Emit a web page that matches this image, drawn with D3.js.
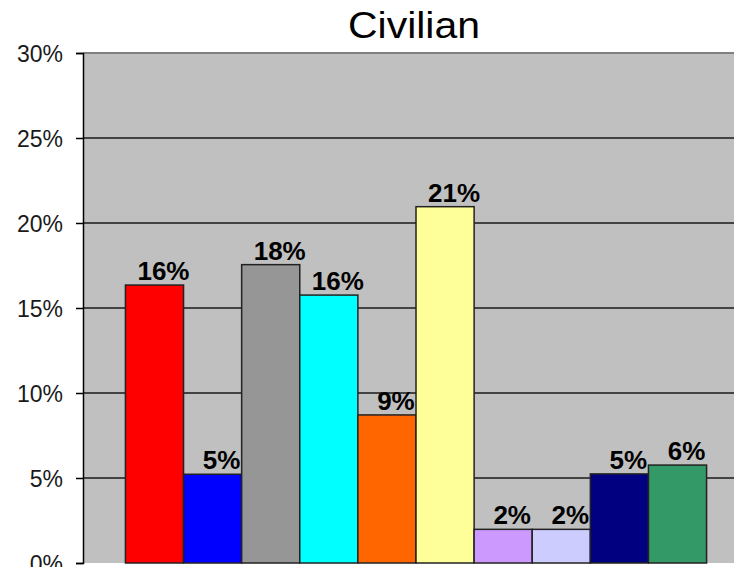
<!DOCTYPE html>
<html>
<head>
<meta charset="utf-8">
<script src="https://cdn.jsdelivr.net/npm/d3@7"></script>
<style>
  html, body { margin: 0; padding: 0; background: #ffffff; }
  svg { display: block; }
</style>
</head>
<body>
<svg id="chart" width="734" height="567"></svg>
<script>
// ---- data ----
const title = "Civilian";
const categories = ["S1", "S2", "S3", "S4", "S5", "S6", "S7", "S8", "S9", "S10"];
const values = [0.1635, 0.0522, 0.1755, 0.1576, 0.0871, 0.2096, 0.0198, 0.0198, 0.0524, 0.0576];
const colors = ["#ff0000", "#0000ff", "#969696", "#00ffff", "#ff6600", "#ffff99", "#cc99ff", "#ccccff", "#000080", "#339966"];
const yTicks = [0, 0.05, 0.10, 0.15, 0.20, 0.25, 0.30];

// ---- layout ----
const svg = d3.select("#chart");
const plot = { left: 83, right: 749, top: 53, bottom: 563 };
const font = "Arial, 'Liberation Sans', sans-serif";

const y = d3.scaleLinear().domain([0, 0.30]).range([plot.bottom, plot.top]);
const x = d3.scaleBand().domain(categories)
  .range([plot.left, plot.right])
  .paddingInner(0).paddingOuter(0.73);

// plot background
svg.append("rect")
  .attr("x", plot.left).attr("y", plot.top)
  .attr("width", plot.right - plot.left).attr("height", plot.bottom - plot.top)
  .attr("fill", "#c0c0c0");

// gridlines
svg.append("g").selectAll("line")
  .data(yTicks.filter(t => t > 0))
  .join("line")
  .attr("x1", plot.left).attr("x2", plot.right)
  .attr("y1", d => y(d)).attr("y2", d => y(d))
  .attr("stroke", d => d === 0.30 ? "#808080" : "#1a1a1a")
  .attr("stroke-width", d => d === 0.30 ? 2 : 1.5);

// bars
svg.append("g").selectAll("rect")
  .data(values)
  .join("rect")
  .attr("x", (d, i) => x(categories[i]))
  .attr("y", d => y(d))
  .attr("width", x.bandwidth())
  .attr("height", d => y(0) - y(d))
  .attr("fill", (d, i) => colors[i])
  .attr("stroke", "#222")
  .attr("stroke-width", 1.5);

// y axis
const yAxis = d3.axisLeft(y)
  .tickValues(yTicks)
  .tickFormat(d3.format(".0%"))
  .tickSize(7)
  .tickPadding(13);
const gy = svg.append("g")
  .attr("transform", `translate(${plot.left},0)`)
  .call(yAxis);
gy.select(".domain").attr("stroke", "#000").attr("stroke-width", 1.5);
gy.selectAll(".tick line").attr("stroke", "#000").attr("stroke-width", 1.5);
gy.selectAll(".tick text")
  .attr("font-family", font)
  .attr("font-size", 23)
  .attr("fill", "#1a1a1a")
  .attr("dy", "0.36em");

// value labels
svg.append("g").selectAll("text")
  .data(values)
  .join("text")
  .attr("x", (d, i) => x(categories[i]) + x.bandwidth() / 2 + 9)
  .attr("y", d => y(d) - 5)
  .attr("text-anchor", "middle")
  .attr("font-family", font)
  .attr("font-weight", "bold")
  .attr("font-size", 26)
  .attr("fill", "#000")
  .text(d => Math.round(d * 100) + "%");

// title
svg.append("text")
  .attr("x", 414).attr("y", 38)
  .attr("text-anchor", "middle")
  .attr("font-family", font)
  .attr("font-size", 36)
  .attr("fill", "#000")
  .attr("textLength", 132)
  .attr("lengthAdjust", "spacingAndGlyphs")
  .text(title);
</script>
</body>
</html>
